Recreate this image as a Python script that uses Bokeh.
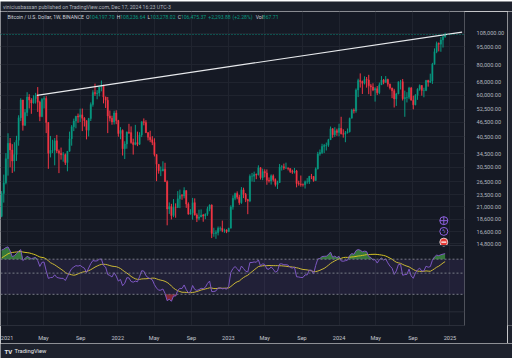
import numpy as np
import pandas as pd
from bokeh.plotting import figure
from bokeh.layouts import column, row
from bokeh.models import (ColumnDataSource, Range1d, LogScale, LinearScale, LogAxis,
                          LinearAxis, FixedTicker, NumeralTickFormatter, Span,
                          BoxAnnotation, Label, Grid)
from bokeh.embed import file_html
from bokeh.resources import INLINE
from bokeh.core.properties import value

# ---------------- data ----------------
first_week = "2020-12-14"          # Monday of the first weekly candle
first_open = 19150.0

close_2020 = [23780, 26270, 33000]
high_2020 = [24300, 28400, 34780]
low_2020 = [19000, 21800, 25900]

close_2021 = [38150, 35830, 32260, 34300, 39250, 48600, 57400, 45200, 50970, 59000, 57350, 55800, 58200,
              59800, 56200, 49100, 57800, 58250, 46400, 34700, 35700, 35800, 39100, 35500, 34700, 34250,
              34250, 31800, 35400, 39850, 44600, 47050, 49300, 48850, 49900, 48300, 47250, 43150, 48200,
              55000, 61550, 61000, 61300, 64950, 65500, 59000, 57300, 49400, 48350, 46700, 50800, 47300]
high_2021 = [41950, 40100, 37850, 38530, 40950, 49700, 58350, 57500, 52650, 61800, 60650, 58400, 60050,
             61400, 64850, 57000, 58450, 59500, 59600, 46650, 40900, 39450, 40100, 41300, 36000, 36650,
             35100, 34650, 35450, 42600, 45300, 48150, 49400, 50500, 52900, 52950, 48850, 47350, 48500,
             56100, 62950, 67000, 63000, 65000, 69000, 66300, 59300, 59050, 51950, 49500, 51900, 52100]
low_2021 = [28130, 30420, 28850, 29240, 32300, 37300, 47000, 43000, 44950, 49300, 53000, 50400, 55500,
            55500, 51300, 47000, 48800, 53000, 42000, 30000, 33400, 34800, 31000, 34800, 28800, 32700,
            32080, 31100, 29300, 35250, 37300, 42800, 43950, 46300, 46600, 42800, 44700, 39600, 40700,
            47100, 53900, 59700, 57800, 59400, 62300, 55600, 53250, 42000, 46900, 45450, 45550, 45700]

close_2022 = [41850, 43100, 36250, 37900, 42400, 42200, 38400, 37700, 38400, 37800, 41300, 46800, 46400,
              42150, 40380, 39450, 38470, 34300, 31300, 29430, 29450, 29900, 26570, 20550, 21000, 19300,
              20850, 20800, 22600, 23300, 23200, 24450, 21500, 19550, 19800, 21800, 19400, 18800, 19050,
              19400, 19200, 19550, 20600, 21300, 16300, 16300, 16450, 17100, 17100, 16780, 16850, 16600]
high_2022 = [47600, 44450, 43500, 38900, 42650, 45850, 44750, 39850, 45400, 42600, 42350, 46900, 48250,
             47450, 42450, 42950, 40800, 40000, 34400, 31300, 30650, 32200, 31750, 26900, 21850, 21550,
             22550, 21650, 24300, 24650, 23650, 25200, 24450, 21850, 20500, 22800, 22700, 19700, 20400,
             20450, 19600, 19700, 21000, 21450, 21450, 17200, 16800, 17400, 17400, 18400, 17050, 16950]
low_2022 = [40600, 39650, 34000, 32900, 36250, 41650, 38000, 34300, 37450, 37150, 37550, 40450, 45200,
            42100, 39200, 38550, 37500, 33700, 26700, 28650, 28000, 29300, 26550, 17600, 19600, 18600,
            19000, 18900, 20750, 20700, 22400, 22700, 20750, 19500, 19500, 18550, 19300, 18150, 18450,
            19000, 18200, 18650, 19250, 20100, 15600, 15800, 15500, 16000, 16700, 16500, 16400, 16350]

close_2023 = [17130, 20900, 22700, 23750, 22950, 21800, 24600, 23550, 22430, 22130, 27950, 27990, 28450,
              28320, 30300, 27600, 29230, 28850, 26900, 26750, 28080, 27100, 25850, 26340, 30500, 30600,
              30200, 30250, 30080, 29230, 29050, 29400, 26100, 26000, 25850, 25830, 26530, 26530, 27950,
              27920, 26850, 29990, 34520, 35000, 37060, 37380, 37450, 39460, 43790, 41370, 42990, 42280]
high_2023 = [17200, 21250, 23350, 23950, 24250, 23450, 25250, 25100, 23880, 22600, 28450, 28850, 29200,
             28700, 31000, 30480, 30050, 29850, 29820, 27650, 28450, 28450, 27400, 26800, 31400, 31050,
             31500, 31800, 30400, 30100, 29750, 30250, 29680, 26800, 28150, 26120, 26850, 27480, 28060,
             28580, 28000, 30380, 35200, 35980, 37980, 37920, 38420, 39800, 44700, 44000, 44400, 43800]
low_2023 = [16500, 17100, 20400, 22300, 22500, 21350, 21550, 22750, 21900, 19550, 21900, 26600, 26500,
            27200, 28170, 27100, 26950, 27680, 25800, 26350, 25850, 26600, 25380, 24800, 26250, 29500,
            29700, 29950, 29550, 28850, 28600, 28700, 25180, 25600, 25350, 25380, 24900, 26050, 26000,
            27200, 26550, 26800, 29800, 33950, 34500, 34800, 35650, 36900, 39450, 40200, 40550, 40950]

close_2024 = [43930, 41730, 41580, 42120, 42580, 48300, 52130, 51730, 63110, 68950, 68390, 67210, 69650,
              69360, 65660, 64940, 63120, 63900, 61480, 66270, 69250, 67760, 69650, 66680, 64260, 62670,
              58000, 60800, 68170, 68250, 58140, 58710, 58920, 64240, 57300, 54850, 59950, 63600, 65830,
              62800, 62850, 69000, 67950, 68750, 80400, 90600, 97900, 97200, 101150, 104197.70, 106475.37]
high_2024 = [45880, 49000, 43550, 42850, 43880, 48600, 52800, 52980, 64000, 70170, 73780, 68930, 71770,
             71300, 72800, 66870, 67230, 64730, 65500, 67700, 71950, 70000, 71950, 70200, 66970, 64500,
             63800, 61400, 68350, 69400, 70000, 62700, 61800, 65000, 64950, 59800, 60670, 64130, 66500,
             66100, 64450, 69400, 69500, 73600, 81500, 93450, 99600, 98800, 104000, 105250, 108236.64]
low_2024 = [40750, 41500, 40250, 38550, 41850, 42250, 48300, 50550, 50900, 59000, 64530, 60770, 66500,
            64500, 60660, 59600, 62400, 56550, 60180, 60630, 66100, 66600, 67600, 65080, 63380, 58400,
            53500, 54300, 60600, 63400, 57120, 49000, 56100, 57850, 57200, 52550, 54600, 57500, 62650,
            59800, 58900, 62400, 65100, 67450, 66800, 80200, 89300, 90800, 90500, 94150, 103278.02]

# weekly closes of 2020 before the view: only used to warm up the RSI, not drawn
warmup_close_2020 = [7760, 8180, 8700, 8600, 9340, 10150, 9920, 9660, 8530, 8040, 5360, 5830, 6410, 6780,
                     6910, 7130, 7700, 8900, 8720, 9670, 8720, 9450, 9740, 9340, 9290, 9010, 9070, 9230,
                     9160, 9700, 11050, 11900, 11850, 11650, 11650, 10250, 10450, 10920, 10780, 10670,
                     11380, 11500, 13030, 13760, 15480, 15960, 18700, 18180, 19360, 19150]

# resistance line drawn on the chart (two anchor points)
trend_dates = ["2021-04-09", "2025-02-10"]
trend_prices = [60000, 109000]

# axis ticks
price_ticks = [14800, 16600, 18600, 21000, 23500, 26500, 30500, 34500, 40500, 46500, 52500,
               60000, 68000, 80000, 95000, 108000]
time_tick_dates = ["2021-01-01", "2021-05-01", "2021-09-01", "2022-01-01", "2022-05-01", "2022-09-01",
                   "2023-01-01", "2023-05-01", "2023-09-01", "2024-01-01", "2024-05-01", "2024-09-01",
                   "2025-01-01"]
time_tick_labels = ["2021", "May", "Sep", "2022", "May", "Sep", "2023", "May", "Sep",
                    "2024", "May", "Sep", "2025"]

# RSI pane: band levels and value tags shown on its scale
rsi_levels = [70, 50, 30]
rsi_tag_values = [78.71, 65.77, 60.77, 44.71]
rsi_tag_texts = ["78.71", "65.77", "60.77", "44.71"]
rsi_scale_values = [40.0, 28.0]
rsi_scale_texts = ["40.00", "28.00"]

attribution = "viniciusbassan published on TradingView.com, Dec 17, 2024 16:23 UTC-3"
legend_title = "Bitcoin / U.S. Dollar, 1W, BINANCE"
legend_ohlc = ["104,197.70", "108,236.64", "103,278.02", "106,475.37"]
legend_change = ["+2,293.88", "(+2.28%)"]
legend_vol = "867.71"
price_tag = "106,475.37\n5d 5h"

# ---------------- styles ----------------
W = 512
BG = "#151924"
BAR = "#1e222d"
GRID = "#20242f"
SEP = "#2a2e39"
TXT = "#b2b5be"
TXT2 = "#d1d4dc"
UP = "#089981"
DN = "#f23645"
PURPLE = "#7e57c2"
YELLOW = "#d6c424"
FONT = "Roboto"


def ms(d):
    return int(pd.Timestamp(d).value // 10**6)


# ---------------- derived series ----------------
close = np.array(close_2020 + close_2021 + close_2022 + close_2023 + close_2024, dtype=float)
high = np.array(high_2020 + high_2021 + high_2022 + high_2023 + high_2024, dtype=float)
low = np.array(low_2020 + low_2021 + low_2022 + low_2023 + low_2024, dtype=float)
openp = np.concatenate([[first_open], close[:-1]])
high = np.maximum(high, np.maximum(openp, close))
low = np.minimum(low, np.minimum(openp, close))
dates = pd.date_range(first_week, periods=len(close), freq="7D")
xs = dates.asi8 // 10**6

cl_all = np.concatenate([np.array(warmup_close_2020, dtype=float), close])
d = np.diff(cl_all)
up = np.where(d > 0, d, 0.0)
dn = np.where(d < 0, -d, 0.0)
N = 14
ru = np.full(len(d), np.nan)
rd = np.full(len(d), np.nan)
ru[N - 1] = up[:N].mean()
rd[N - 1] = dn[:N].mean()
for i in range(N, len(d)):
    ru[i] = (ru[i - 1] * (N - 1) + up[i]) / N
    rd[i] = (rd[i - 1] * (N - 1) + dn[i]) / N
rsi_all = 100 - 100 / (1 + ru / rd)
ma_all = pd.Series(rsi_all).rolling(N).mean().to_numpy()
rsi = rsi_all[-len(close):]
rsi_ma = ma_all[-len(close):]

is_up = close >= openp
src = ColumnDataSource(dict(
    x=xs, o=openp, h=high, l=low, c=close,
    top=np.maximum(openp, close), bot=np.minimum(openp, close),
    col=np.where(is_up, UP, DN),
    rsi=rsi, ma=rsi_ma,
    ob=np.maximum(rsi, 70.0), os_=np.minimum(rsi, 30.0),
))

# ---------------- main chart (reference rows 11..343, columns 0..507) ----------------
p = figure(width=507, height=332,
           x_range=Range1d(ms("2020-12-10 05:00"), ms("2025-02-17 22:00")),
           y_range=Range1d(6840, 132300), y_axis_type="log",
           x_axis_location=None, y_axis_location=None,
           toolbar_location=None, output_backend="svg",
           min_border_left=0, min_border_right=36, min_border_top=0, min_border_bottom=10,
           background_fill_color=BG, border_fill_color=BG, outline_line_color=None)
p.center = [r for r in p.center if not isinstance(r, Grid)]

p.extra_x_ranges = {"scr": Range1d(0, 471)}
p.extra_x_scales = {"scr": LinearScale()}
p.extra_y_ranges = {"rsi": Range1d(14.13, 27580), "scr": Range1d(333, 11)}
p.extra_y_scales = {"rsi": LogScale(), "scr": LinearScale()}

time_ticks = [ms(t) for t in time_tick_dates]
p.add_layout(Grid(dimension=0, ticker=FixedTicker(ticks=time_ticks), grid_line_color=GRID))
p.add_layout(Grid(dimension=1, ticker=FixedTicker(ticks=price_ticks), grid_line_color=GRID))

# pane separators
for yy in (251, 319):
    p.add_layout(Span(location=yy, dimension="width", y_range_name="scr",
                      line_color=SEP, line_width=1))

# price axis
pax = LogAxis(ticker=FixedTicker(ticks=price_ticks),
              formatter=NumeralTickFormatter(format="0,0.00"))
pax.axis_line_color = None
pax.major_tick_line_color = None
pax.minor_tick_line_color = None
pax.major_label_standoff = 6
pax.major_label_text_font = FONT
pax.major_label_text_font_size = "5.6px"
pax.major_label_text_color = TXT
p.add_layout(pax, "right")

# time axis
tax = LinearAxis(ticker=FixedTicker(ticks=time_ticks),
                 major_label_overrides={t: s for t, s in zip(time_ticks, time_tick_labels)})
tax.axis_line_color = SEP
tax.major_tick_line_color = None
tax.minor_tick_line_color = None
tax.major_label_standoff = 3
tax.major_label_text_font = FONT
tax.major_label_text_font_size = "5.6px"
tax.major_label_text_color = "#c3c6ce"
p.add_layout(tax, "below")

# candles
p.segment(x0="x", x1="x", y0="l", y1="h", source=src, line_color="col", line_width=1)
p.vbar(x="x", width=4.3 * 86400000, top="top", bottom="bot", source=src,
       fill_color="col", line_color="col", line_width=0.4)

# resistance line
p.line(x=[ms(t) for t in trend_dates], y=trend_prices, line_color="#e8eaed", line_width=1.2)

# last price line
p.add_layout(Span(location=float(close[-1]), dimension="width", line_color=UP,
                  line_dash="1 2", line_width=1, line_alpha=0.9))

# RSI pane
p.add_layout(BoxAnnotation(bottom=30, top=70, y_range_name="rsi", fill_color=PURPLE,
                           fill_alpha=0.12, line_color=None))
for lv in rsi_levels:
    p.add_layout(Span(location=lv, dimension="width", y_range_name="rsi",
                      line_color="#787b86", line_dash="2 2", line_width=1))
p.varea(x="x", y1="ob", y2=70.0, source=src, y_range_name="rsi", fill_color="#43a047", fill_alpha=0.7)
p.varea(x="x", y1="os_", y2=30.0, source=src, y_range_name="rsi", fill_color=DN, fill_alpha=0.5)
p.line(x="x", y="ma", source=src, y_range_name="rsi", line_color=YELLOW, line_width=1)
p.line(x="x", y="rsi", source=src, y_range_name="rsi", line_color=PURPLE, line_width=1)

# event icons
p.scatter(x=[450], y=[225.5], x_range_name="scr", y_range_name="scr", marker="circle_cross",
          size=8, fill_color=BG, line_color="#8f62e0", line_width=1)
p.scatter(x=[450], y=[236.5], x_range_name="scr", y_range_name="scr", marker="circle",
          size=8, fill_color=BG, line_color="#8f62e0", line_width=1)
p.text(x=[450], y=[236.5], text=["ϟ"], x_range_name="scr", y_range_name="scr",
       text_font=value("DejaVu Sans"), text_font_size=value("5.5px"), text_color=value("#a37ef0"),
       text_align=value("center"), text_baseline=value("middle"))
p.scatter(x=[450], y=[247.5], x_range_name="scr", y_range_name="scr", marker="circle",
          size=8, fill_color="#e53935", line_color="#f0f0f0", line_width=0.8)
p.scatter(x=[450], y=[247.5], x_range_name="scr", y_range_name="scr", marker="dash",
          size=5, line_color="#ffffff", line_width=1.2)

# header legend
hy = 17
legend_items = [(7, legend_title, TXT2),
                (86.7, "O", TXT2), (90.1, legend_ohlc[0], UP),
                (117.9, "H", TXT2), (121.5, legend_ohlc[1], UP),
                (149.3, "L", TXT2), (152.0, legend_ohlc[2], UP),
                (179.8, "C", TXT2), (183.1, legend_ohlc[3], UP),
                (210.9, legend_change[0], UP), (235.4, legend_change[1], UP),
                (259.0, "Vol", TXT2), (266.3, legend_vol, UP)]
for lx, t, c in legend_items:
    p.add_layout(Label(x=lx, y=hy, x_range_name="scr", y_range_name="scr", text=t,
                       text_font=FONT, text_font_size="5.1px", text_color=c,
                       text_baseline="middle", text_align="left"))

# USD box
p.add_layout(Label(x=491, y=17.5, x_range_name="scr", y_range_name="scr", text="USD",
                   text_font=FONT, text_font_size="5.2px", text_color=TXT2,
                   text_align="center", text_baseline="middle",
                   background_fill_color="#131722", border_line_color="#363a45",
                   border_line_width=1, padding=2))

# last price tag
p.add_layout(Label(x=473.5, y=float(close[-1]), x_range_name="scr", text=price_tag,
                   text_font=FONT, text_font_size="5.2px", text_color="#ffffff",
                   text_align="left", text_baseline="top", y_offset=3.5,
                   background_fill_color=UP, padding=1))

# RSI scale texts and tags
for v, t in zip(rsi_scale_values, rsi_scale_texts):
    p.add_layout(Label(x=477, y=v, x_range_name="scr", y_range_name="rsi", text=t,
                       text_font=FONT, text_font_size="5.2px", text_color=TXT,
                       text_align="left", text_baseline="middle"))
tag_styles = [(PURPLE, "#ffffff", 0), (YELLOW, "#f4f4f4", 0), ("#ffffff", "#131722", -4), ("#ffffff", "#131722", 0)]
for v, t, (bgc, fg, off) in zip(rsi_tag_values, rsi_tag_texts, tag_styles):
    p.add_layout(Label(x=474, y=v, x_range_name="scr", y_range_name="rsi", text=t,
                       text_font=FONT, text_font_size="5.2px", text_color=fg,
                       text_align="left", text_baseline="middle", y_offset=off,
                       background_fill_color=bgc, padding=1))

# ---------------- frame bars ----------------
def bar_fig(w, h):
    f = figure(width=w, height=h, x_range=Range1d(0, w), y_range=Range1d(0, 1),
               x_axis_location=None, y_axis_location=None, toolbar_location=None,
               output_backend="svg", min_border=0, background_fill_color=BAR,
               border_fill_color=BAR, outline_line_color=None)
    f.center = [r for r in f.center if not isinstance(r, Grid)]
    return f


top = bar_fig(W, 11)
top.text(x=[2.5], y=[0.5], text=[attribution], text_font=value(FONT), text_font_size=value("5.2px"),
         text_color=value(TXT), text_align=value("left"), text_baseline=value("middle"))

edge = bar_fig(5, 332)
edge.text(x=[0], y=[0.5], text=[""], text_font_size=value("1px"))

bottom = bar_fig(W, 15)
bottom.text(x=[4], y=[0.5], text=["TV"], text_font=value(FONT), text_font_size=value("6px"),
            text_font_style=value("bold"), text_color=value("#e8eaed"),
            text_align=value("left"), text_baseline=value("middle"))
bottom.text(x=[14], y=[0.5], text=["TradingView"], text_font=value(FONT), text_font_size=value("5.8px"),
            text_color=value("#e8eaed"), text_align=value("left"), text_baseline=value("middle"))

layout = column(top, row(p, edge, spacing=0), bottom, spacing=0)
open("out.html", "w").write(file_html(layout, INLINE))
